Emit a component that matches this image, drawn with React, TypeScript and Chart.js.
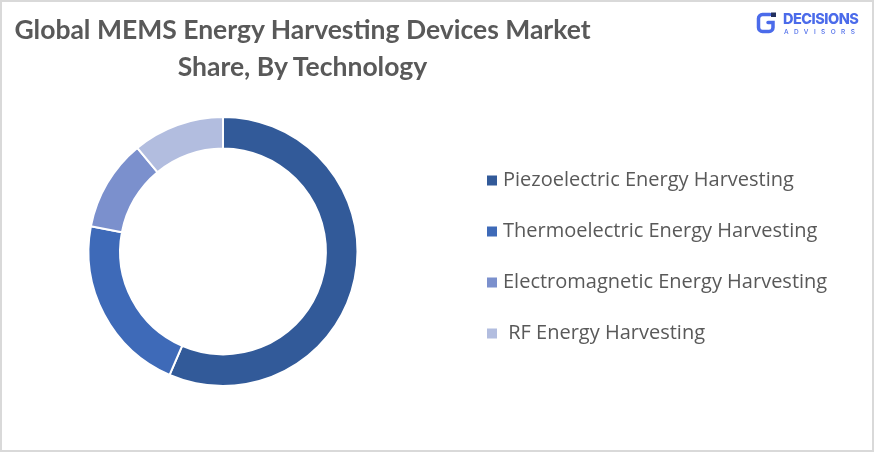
import React, { useEffect, useRef } from "react";
import { Chart, registerables } from "chart.js";

Chart.register(...registerables);

const titleLines = ["Global MEMS Energy Harvesting Devices Market", "Share, By Technology"];
const categories = [
  "Piezoelectric Energy Harvesting",
  "Thermoelectric Energy Harvesting",
  "Electromagnetic Energy Harvesting",
  " RF Energy Harvesting",
];
const shares = [56.5, 21.5, 11, 11];
const colors = ["#325A99", "#3E6AB8", "#7B90CD", "#B2BDDF"];

const CANVAS_LEFT = -14;
const CANVAS_W = 888;
const CANVAS_H = 452;
const LEGEND_FONT = 20;
const LEGEND_PAD = 31;
const LEGEND_BOX_W = 2;

export default function App() {
  const ref = useRef<HTMLCanvasElement>(null);

  useEffect(() => {
    const canvas = ref.current!;
    const ctx = canvas.getContext("2d")!;
    ctx.font = `${LEGEND_FONT}px "Open Sans"`;
    const maxText = Math.max(...categories.map((c) => ctx.measureText(c).width));
    const legendWidth = LEGEND_PAD + LEGEND_BOX_W + LEGEND_FONT / 2 + maxText + 10;
    const legendLeft = 474; // canvas coords
    const padRight = Math.max(CANVAS_W - legendLeft - legendWidth, 0);

    const baseGen = (Chart as any).overrides.doughnut.plugins.legend.labels.generateLabels;

    const chart = new Chart(canvas, {
      type: "doughnut",
      data: {
        labels: categories,
        datasets: [
          {
            data: shares,
            backgroundColor: colors,
            borderColor: "#ffffff",
            borderWidth: 2,
            hoverOffset: 0,
          },
        ],
      },
      options: {
        responsive: false,
        devicePixelRatio: 1,
        animation: false,
        cutout: "76.5%",
        layout: { padding: { left: 0, right: padRight, top: 116, bottom: 65 } },
        plugins: {
          tooltip: { enabled: false },
          title: { display: false },
          legend: {
            display: true,
            position: "right",
            align: "center",
            title: { display: true, text: " ", font: { size: 11, lineHeight: 1 }, padding: 0 },
            labels: {
              color: "#595959",
              font: { family: '"Open Sans"', size: LEGEND_FONT },
              padding: LEGEND_PAD,
              usePointStyle: true,
              pointStyle: "rect",
              boxWidth: LEGEND_BOX_W,
              boxHeight: 10,
              generateLabels: (c: any) =>
                baseGen(c).map((l: any) => ({ ...l, lineWidth: 0, strokeStyle: "rgba(0,0,0,0)" })),
            },
          },
        },
      },
    });
    return () => chart.destroy();
  }, []);

  return (
    <div
      style={{
        position: "fixed",
        left: 0,
        top: 0,
        width: 874,
        height: 452,
        overflow: "hidden",
        background: "#ffffff",
      }}
    >
      <canvas
        ref={ref}
        width={CANVAS_W}
        height={CANVAS_H}
        style={{ position: "absolute", left: CANVAS_LEFT, top: 0, width: CANVAS_W, height: CANVAS_H }}
      />
      <div
        style={{
          position: "absolute",
          left: 0,
          top: 11,
          width: 605,
          textAlign: "center",
          fontFamily: "Lato, sans-serif",
          fontWeight: 700,
          fontSize: 26.5,
          lineHeight: "37px",
          color: "#595959",
          whiteSpace: "nowrap",
        }}
      >
        {titleLines.map((t, i) => (
          <div key={i}>{t}</div>
        ))}
      </div>
      <svg width="24" height="24" style={{ position: "absolute", left: 755, top: 11 }}>
        <path
          d="M15 3.5 H7.5 a4 4 0 0 0 -4 4 V16.5 a4 4 0 0 0 4 4 H14 a4 4 0 0 0 4 -4 V11.5 H13"
          fill="none"
          stroke="#4B6BEA"
          strokeWidth="3.5"
          strokeLinecap="round"
        />
        <rect x="16" y="1.5" width="5" height="4.5" fill="#22305E" />
      </svg>
      <div
        style={{
          position: "absolute",
          left: 783,
          top: 11.5,
          fontFamily: "Inter, sans-serif",
          fontWeight: 800,
          fontSize: 14.5,
          lineHeight: 1,
          letterSpacing: -0.5,
          color: "#4B6BEA",
          whiteSpace: "nowrap",
        }}
      >
        DECISIONS
      </div>
      <div
        style={{
          position: "absolute",
          left: 784,
          top: 28.5,
          fontFamily: "Inter, sans-serif",
          fontWeight: 500,
          fontSize: 6.5,
          lineHeight: 1,
          letterSpacing: 5.4,
          color: "#4B6BEA",
          whiteSpace: "nowrap",
        }}
      >
        ADVISORS
      </div>
      <div
        style={{
          position: "absolute",
          left: 0,
          top: 0,
          width: 874,
          height: 452,
          boxSizing: "border-box",
          border: "2px solid #D9D9D9",
          pointerEvents: "none",
        }}
      />
    </div>
  );
}
